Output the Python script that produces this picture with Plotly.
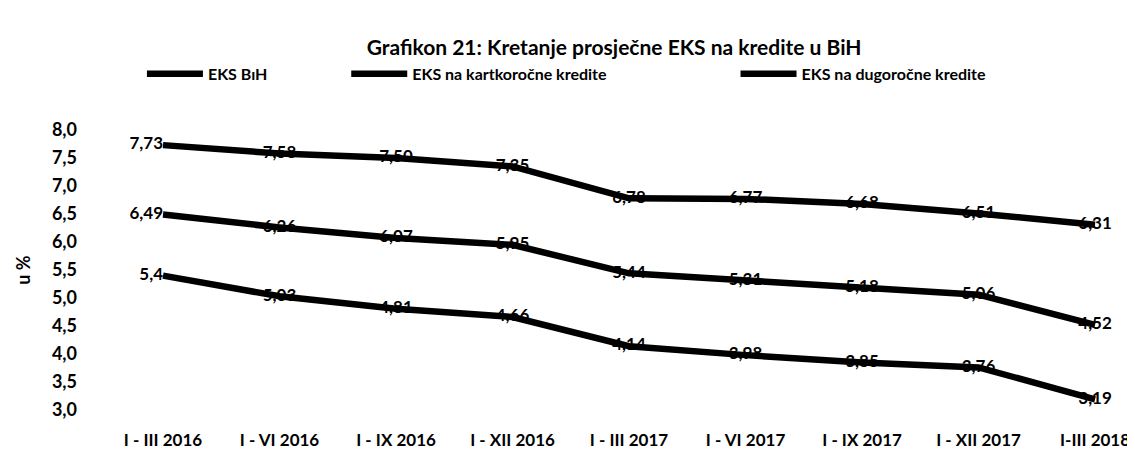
import plotly.graph_objects as go

categories = ["I - III 2016", "I - VI 2016", "I - IX 2016", "I - XII 2016", "I - III 2017",
              "I - VI 2017", "I - IX 2017", "I - XII 2017", "I-III 2018"]
eks_bih = [6.49, 6.26, 6.07, 5.95, 5.44, 5.31, 5.18, 5.06, 4.52]
eks_kratkorocne = [5.40, 5.03, 4.81, 4.66, 4.14, 3.98, 3.85, 3.76, 3.19]
eks_dugorocne = [7.73, 7.58, 7.50, 7.35, 6.78, 6.77, 6.68, 6.51, 6.31]
y_ticks = [3.0, 3.5, 4.0, 4.5, 5.0, 5.5, 6.0, 6.5, 7.0, 7.5, 8.0]

FONT = "Lato"
x_idx = list(range(len(categories)))


def fmt(v, first=False):
    s = f"{v:.2f}".replace(".", ",")
    if first and s.endswith("0"):
        s = s[:-1]
    return s


def trace(name, vals, legend):
    texts = [fmt(v, i == 0) for i, v in enumerate(vals)]
    pos = ["middle left"] + ["middle center"] * (len(vals) - 1)
    return go.Scatter(
        x=x_idx, y=vals, name=name, mode="lines+text", legend=legend,
        line=dict(color="black", width=6.5),
        text=texts, textposition=pos,
        textfont=dict(family=FONT, size=17, color="black", weight="bold"),
        cliponaxis=False,
    )


fig = go.Figure()
fig.add_trace(trace("EKS BıH", eks_bih, "legend"))
fig.add_trace(trace("EKS na kartkoročne kredite", eks_kratkorocne, "legend2"))
fig.add_trace(trace("EKS na dugoročne kredite", eks_dugorocne, "legend3"))

leg_common = dict(orientation="h", yref="container", y=0.854, yanchor="middle",
                  xref="container", xanchor="left", itemwidth=56,
                  font=dict(family=FONT, size=16, color="black", weight="bold"),
                  bgcolor="rgba(0,0,0,0)")

fig.update_layout(
    width=1135, height=451,
    paper_bgcolor="white", plot_bgcolor="white",
    margin=dict(l=102, r=13, t=122, b=49, autoexpand=False),
    font=dict(family=FONT, color="black"),
    title=dict(text="<b>Grafikon 21: Kretanje prosječne EKS na kredite u BiH</b>",
               x=0.534, xanchor="center", y=0.912, yanchor="middle",
               font=dict(family=FONT, size=21, color="black")),
    legend=dict(**leg_common, x=0.118),
    legend2=dict(**leg_common, x=0.298),
    legend3=dict(**leg_common, x=0.641),
    showlegend=True,
)

fig.update_xaxes(
    tickmode="array", tickvals=x_idx, ticktext=categories, automargin=False,
    range=[-0.455, 8.3], showgrid=False, zeroline=False, showline=False,
    ticks="", ticklabelstandoff=18,
    tickfont=dict(family=FONT, size=17, color="black", weight="bold"),
)
fig.update_yaxes(
    range=[3.0, 8.0], tickmode="array", tickvals=y_ticks, automargin=False,
    ticktext=[f"{v:.1f}".replace(".", ",") for v in y_ticks],
    showgrid=False, zeroline=False, showline=False, ticks="",
    ticklabelstandoff=32,
    tickfont=dict(family=FONT, size=18, color="black", weight="bold"),
    title=dict(text="<b>u %</b>", font=dict(family=FONT, size=18, color="black"), standoff=16),
)

fig.write_html("out.html")
